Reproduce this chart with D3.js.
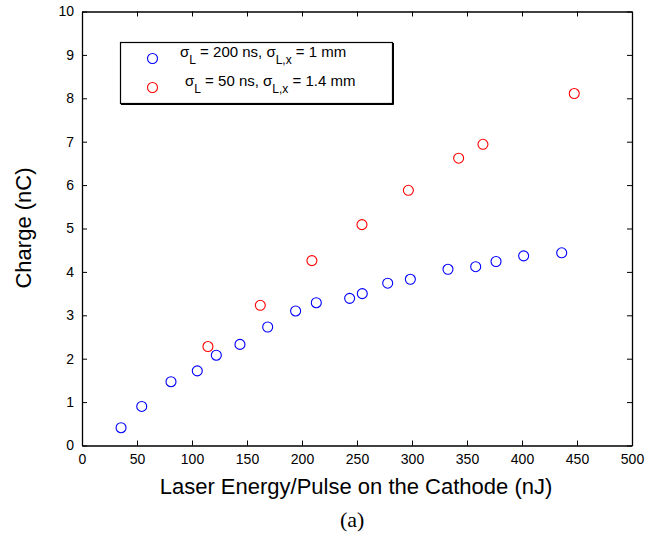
<!DOCTYPE html>
<html>
<head>
<meta charset="utf-8">
<script src="https://cdn.jsdelivr.net/npm/d3@7"></script>
<style>
  body { margin: 0; background: #fff; }
  text { font-family: "Liberation Sans", Arial, sans-serif; }
</style>
</head>
<body>
<svg id="chart" width="657" height="536"></svg>
<script>
"use strict";

// data
var blueEnergy = [35.5, 54.3, 80.9, 104.8, 122.1, 143.6, 168.8, 194.2, 213, 243.3, 254.8, 277.9, 298.5, 332.7, 357.9, 376.4, 401.5, 436.1];
var blueCharge = [0.41, 0.90, 1.47, 1.72, 2.08, 2.33, 2.73, 3.10, 3.29, 3.39, 3.50, 3.74, 3.83, 4.06, 4.12, 4.24, 4.37, 4.44];

var redEnergy = [114.5, 162.1, 209, 254.5, 296.7, 342.4, 364.5, 447.5];
var redCharge = [2.28, 3.23, 4.26, 5.09, 5.88, 6.62, 6.94, 8.11];

var xTicks = [0, 50, 100, 150, 200, 250, 300, 350, 400, 450, 500];
var yTicks = [0, 1, 2, 3, 4, 5, 6, 7, 8, 9, 10];


var svg = d3.select("#chart");

var plotLeft = 82, plotRight = 632, plotTop = 11.5, plotBottom = 445.5;

var x = d3.scaleLinear().domain([0, 500]).range([plotLeft, plotRight]);
var y = d3.scaleLinear().domain([0, 10]).range([plotBottom, plotTop]);


    // axes, ticks pointing inward on all four sides

function styleAxis(g) {
    g.selectAll(".domain").attr("stroke", "#000").attr("stroke-width", 1.3);
    g.selectAll(".tick line").attr("stroke", "#000").attr("stroke-width", 1);
    g.selectAll(".tick text").attr("fill", "#000").style("font-size", "14px")
        .style("font-family", "'Liberation Sans', Arial, sans-serif");
}

svg.append("g")
    .attr("transform", "translate(0," + plotBottom + ")")
    .call(d3.axisBottom(x).tickValues(xTicks).tickSizeInner(-5).tickSizeOuter(0).tickPadding(9))
    .call(styleAxis);

svg.append("g")
    .attr("transform", "translate(0," + plotTop + ")")
    .call(d3.axisTop(x).tickValues(xTicks).tickSizeInner(-5).tickSizeOuter(0).tickFormat(""))
    .call(styleAxis);

svg.append("g")
    .attr("transform", "translate(" + plotLeft + ",0)")
    .call(d3.axisLeft(y).tickValues(yTicks).tickSizeInner(-5).tickSizeOuter(0).tickPadding(8))
    .call(styleAxis);

svg.append("g")
    .attr("transform", "translate(" + plotRight + ",0)")
    .call(d3.axisRight(y).tickValues(yTicks).tickSizeInner(-5).tickSizeOuter(0).tickFormat(""))
    .call(styleAxis);


    // points

function drawSeries(xs, ys, color) {
    svg.append("g")
        .selectAll("circle")
        .data(d3.zip(xs, ys))
        .join("circle")
            .attr("cx", d => x(d[0]))
            .attr("cy", d => y(d[1]))
            .attr("r", 5)
            .attr("fill", "none")
            .attr("stroke", color)
            .attr("stroke-width", 1.1);
}

drawSeries(blueEnergy, blueCharge, "#0000ff");
drawSeries(redEnergy, redCharge, "#ff0000");


    // legend

var legend = svg.append("g");

legend.append("rect")
    .attr("x", 120.5).attr("y", 42.5)
    .attr("width", 272).attr("height", 61)
    .attr("fill", "#fff")
    .attr("stroke", "#000")
    .attr("stroke-width", 1.2);

legend.append("path")
    .attr("d", "M393.5,43 V104.5 H121")
    .attr("fill", "none")
    .attr("stroke", "#000")
    .attr("stroke-width", 1);

var legendRows = [
    { color: "#0000ff", cy: 58.5, tx: 180, ty: 57, a: " = 200 ns, ", b: " = 1 mm" },
    { color: "#ff0000", cy: 87.5, tx: 185, ty: 86, a: " = 50 ns, ", b: " = 1.4 mm" }
];

legendRows.forEach(function (row) {
    legend.append("circle")
        .attr("cx", 152.5).attr("cy", row.cy).attr("r", 5)
        .attr("fill", "none").attr("stroke", row.color).attr("stroke-width", 1.1);

    var t = legend.append("text")
        .attr("x", row.tx).attr("y", row.ty)
        .style("font-size", "15px");
    t.append("tspan").text("σ");
    t.append("tspan").attr("dy", 7).style("font-size", "12px").text("L");
    t.append("tspan").attr("dy", -7).text(row.a + "σ");
    t.append("tspan").attr("dy", 7).style("font-size", "12px").text("L,x");
    t.append("tspan").attr("dy", -7).text(row.b);
});


    // labels

svg.append("text")
    .attr("x", 356).attr("y", 494)
    .attr("text-anchor", "middle")
    .style("font-size", "22px")
    .text("Laser Energy/Pulse on the Cathode (nJ)");

svg.append("text")
    .attr("transform", "translate(31,228) rotate(-90)")
    .attr("text-anchor", "middle")
    .style("font-size", "22px")
    .text("Charge (nC)");

svg.append("text")
    .attr("x", 340).attr("y", 527)
    .style("font-family", "'Liberation Serif', 'Times New Roman', serif")
    .style("font-size", "22px")
    .text("(a)");
</script>
</body>
</html>
